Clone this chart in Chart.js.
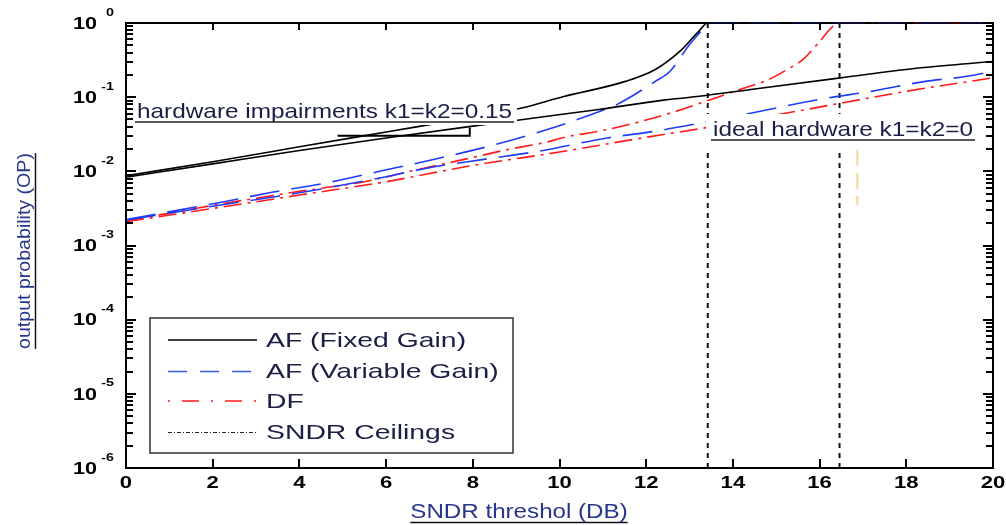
<!DOCTYPE html>
<html>
<head>
<meta charset="utf-8">
<script src="https://cdn.jsdelivr.net/npm/chart.js@4.4.0/dist/chart.umd.min.js"></script>
<style>
  html, body { margin: 0; padding: 0; background: #fff; }
  canvas { display: block; }
</style>
</head>
<body>
<canvas id="op-chart" width="1006" height="525"></canvas>
<script>
// SNDR threshold (dB) and outage probability
// hardware impairments k1=k2=0.15
const snrFixedHI = [0, 2, 4, 6, 8, 9.1, 10.1, 11.5, 12.2, 12.8, 13.2, 13.42, 20];
const opFixedHI = [0.0087, 0.0135, 0.0214, 0.0339, 0.0537, 0.0708, 0.102, 0.162, 0.234, 0.427, 0.759, 1, 1];

const snrVarHI = [0, 2.08, 3.4, 4.67, 5.85, 7.17, 8.39, 9.7, 10.94, 11.32, 12.2, 12.55, 13.0, 13.25, 13.42, 20];
const opVarHI = [0.00224, 0.00372, 0.00525, 0.00708, 0.01, 0.0148, 0.0219, 0.0363, 0.0646, 0.0794, 0.162, 0.224, 0.513, 0.759, 1, 1];

const snrDfHI = [0, 2, 4, 5.5, 6.55, 7.8, 8.87, 9.6, 10.2, 10.9, 11.6, 12.8, 13.5, 14.3, 14.8, 15.3, 15.6, 16.0, 16.3, 16.46, 20];
const opDfHI = [0.00214, 0.00347, 0.00537, 0.00724, 0.01, 0.0145, 0.02, 0.024, 0.0295, 0.0347, 0.0427, 0.0676, 0.0933, 0.135, 0.17, 0.245, 0.316, 0.562, 0.891, 1, 1];

// ideal hardware k1=k2=0
const snrFixedID = [0, 2, 4, 6, 8, 9.16, 10.86, 12.4, 13.17, 14.5, 16.48, 18.4, 20];
const opFixedID = [0.00832, 0.0126, 0.0191, 0.0282, 0.0407, 0.0501, 0.0676, 0.0912, 0.102, 0.129, 0.182, 0.251, 0.302];

const snrVarID = [0, 2, 4, 5.85, 7.0, 8.25, 9.5, 11.1, 12.2, 13.25, 14.55, 16.0, 17.3, 18.4, 19.4, 20];
const opVarID = [0.00219, 0.00339, 0.00513, 0.00813, 0.0112, 0.0145, 0.0186, 0.0282, 0.0347, 0.0447, 0.0631, 0.0933, 0.123, 0.162, 0.191, 0.224];

const snrDfID = [0, 2, 4, 6, 8, 10, 12, 13.5, 15, 16.5, 18, 20];
const opDfID = [0.00209, 0.00316, 0.00479, 0.00724, 0.012, 0.0182, 0.0288, 0.0398, 0.0575, 0.0832, 0.12, 0.182];

// SNDR ceilings (dB)
const ceilings = [13.42, 16.46];

// small marks left in the original figure
const markSnr = [16.87, 16.87];
const markOp = [0.0196, 0.00355];
const leaderSnr = [4.88, 7.89, 7.93, 7.93];
const leaderOp = [0.0302, 0.0302, 0.0302, 0.0389];

const xTicks = [0, 2, 4, 6, 8, 10, 12, 14, 16, 18, 20];
const yExponents = [0, -1, -2, -3, -4, -5, -6];

const legendLabels = ["AF (Fixed Gain)", "AF (Variable Gain)", "DF", "SNDR Ceilings"];

const FONT = "'Liberation Sans', Arial, sans-serif";
const BLUE = "#1f3cf5";
const RED = "#ff1a1a";
const TEXT_DARK = "#1b1f45";
const TITLE_BLUE = "#27368a";

function pts(xs, ys) {
  return xs.map((x, i) => ({ x: x, y: ys[i] }));
}

function curve(xs, ys, color, dash) {
  return {
    data: pts(xs, ys),
    borderColor: color,
    borderWidth: 1.6,
    borderDash: dash,
    pointRadius: 0,
    fill: false,
    cubicInterpolationMode: "monotone",
    clip: 3,
  };
}

const datasets = [
  curve(snrFixedID, opFixedID, "#000", []),
  curve(snrVarID, opVarID, BLUE, [30, 12]),
  curve(snrDfID, opDfID, RED, [18, 6, 3, 6]),
  curve(snrFixedHI, opFixedHI, "#000", []),
  curve(snrVarHI, opVarHI, BLUE, [30, 12]),
  curve(snrDfHI, opDfHI, RED, [18, 6, 3, 6]),
];
ceilings.forEach((c) => {
  datasets.push({
    data: [{ x: c, y: 1e-6 }, { x: c, y: 1 }],
    borderColor: "#111",
    borderWidth: 2,
    borderDash: [5, 5],
    pointRadius: 0,
    fill: false,
    clip: 3,
  });
});
datasets.push({
  data: pts(markSnr, markOp),
  borderColor: "#f8d29a",
  borderWidth: 2,
  borderDash: [16, 7],
  pointRadius: 0,
  fill: false,
});

function stretchText(ctx, text, x, y, sx, align) {
  ctx.save();
  ctx.translate(x, y);
  ctx.scale(sx, 1);
  ctx.textAlign = align || "left";
  ctx.fillText(text, 0, 0);
  const w = ctx.measureText(text).width * sx;
  ctx.restore();
  return w;
}

function labelBox(ctx, text, x, baseline, box) {
  ctx.fillStyle = "#fff";
  ctx.fillRect(box[0], box[1], box[2], box[3]);
  ctx.font = "21px " + FONT;
  ctx.fillStyle = TEXT_DARK;
  ctx.textBaseline = "alphabetic";
  const w = stretchText(ctx, text, x, baseline, 1.16);
  ctx.strokeStyle = "#222";
  ctx.lineWidth = 1.5;
  ctx.setLineDash([]);
  ctx.beginPath();
  ctx.moveTo(x - 2, baseline + 4);
  ctx.lineTo(x + w + 2, baseline + 4);
  ctx.stroke();
}

// inward tick marks, MATLAB style
function tickMarks(ctx, chart) {
  const a = chart.chartArea;
  const xs = chart.scales.x;
  const ys = chart.scales.y;
  ctx.save();
  ctx.fillStyle = "#000";
  for (let i = 0; i < xTicks.length; i++) {
    const px = Math.round(xs.getPixelForValue(xTicks[i]));
    ctx.fillRect(px - 1, Math.round(a.bottom) - 9, 2, 9);
    ctx.fillRect(px - 1, Math.round(a.top), 2, 7);
  }
  for (let k = 0; k < yExponents.length; k++) {
    for (let m = 1; m <= 9; m++) {
      const v = m * Math.pow(10, yExponents[k]);
      if (v > 1) break;
      const py = Math.round(ys.getPixelForValue(v));
      const len = m === 1 ? 10 : 7;
      ctx.fillRect(Math.round(a.left), py - 1, len, 2);
      ctx.fillRect(Math.round(a.right) - len, py - 1, len, 2);
    }
  }
  ctx.restore();
}

const decor = {
  id: "decor",
  beforeDatasetsDraw(chart) {
    // top border sits under the curves that saturate at 1
    const ctx = chart.ctx;
    const a = chart.chartArea;
    ctx.save();
    ctx.fillStyle = "#000";
    ctx.fillRect(a.left - 1, a.top - 1, a.right - a.left + 2, 2);
    ctx.restore();
  },
  afterDatasetsDraw(chart) {
    const ctx = chart.ctx;
    const a = chart.chartArea;
    const xs = chart.scales.x;
    const ys = chart.scales.y;
    ctx.save();
    ctx.setLineDash([]);

    // leader line under the first annotation
    ctx.strokeStyle = "#000";
    ctx.lineWidth = 2;
    ctx.beginPath();
    leaderSnr.forEach((v, i) => {
      const px = xs.getPixelForValue(v);
      const py = ys.getPixelForValue(leaderOp[i]);
      if (i === 0) ctx.moveTo(px, py); else ctx.lineTo(px, py);
    });
    ctx.stroke();

    labelBox(ctx, "hardware impairments k1=k2=0.15", 137, 118, [133, 94, 384, 31]);
    labelBox(ctx, "ideal hardware k1=k2=0", 713, 136, [706, 114, 272, 34]);

    // legend
    ctx.fillStyle = "#fff";
    ctx.fillRect(150, 318, 363, 135);
    ctx.strokeStyle = "#333";
    ctx.lineWidth = 1.5;
    ctx.setLineDash([]);
    ctx.strokeRect(150, 318, 363, 135);
    const rowY = [340, 371.5, 401, 432.5];
    const styles = [
      { c: "#000", d: [], w: 1.5 },
      { c: "#3160d8", d: [19, 13], w: 1.5 },
      { c: RED, d: [2, 12, 17, 12], w: 1.5 },
      { c: "#222", d: [4, 2, 1, 2], w: 1 },
    ];
    legendLabels.forEach((lab, i) => {
      const s = styles[i];
      ctx.strokeStyle = s.c;
      ctx.lineWidth = s.w;
      ctx.setLineDash(s.d);
      ctx.beginPath();
      ctx.moveTo(168, rowY[i]);
      ctx.lineTo(257, rowY[i]);
      ctx.stroke();
      ctx.setLineDash([]);
      ctx.font = "21px " + FONT;
      ctx.fillStyle = TEXT_DARK;
      ctx.textBaseline = "alphabetic";
      stretchText(ctx, lab, 266, rowY[i] + 6.5, 1.35);
    });

    // frame (left, bottom, right)
    ctx.fillStyle = "#000";
    ctx.fillRect(a.left - 1, a.top - 1, 2, a.bottom - a.top + 2);
    ctx.fillRect(a.left - 1, a.bottom - 1, a.right - a.left + 2, 2);
    ctx.fillRect(a.right - 1, a.top - 1, 2, a.bottom - a.top + 2);

    // tick labels
    ctx.fillStyle = "#000";
    ctx.textBaseline = "middle";
    ctx.font = "bold 17px " + FONT;
    xTicks.forEach((v) => {
      stretchText(ctx, String(v), xs.getPixelForValue(v), 483, 1.3, "center");
    });
    yExponents.forEach((e) => {
      const py = ys.getPixelForValue(Math.pow(10, e));
      ctx.font = "bold 17px " + FONT;
      ctx.textBaseline = "middle";
      stretchText(ctx, "10", 97, py + 1, 1.27, "right");
      ctx.font = "bold 11px " + FONT;
      ctx.textBaseline = "alphabetic";
      stretchText(ctx, e === 0 ? "0" : "-" + Math.abs(e), 114, py - 7.5, 1.3, "right");
    });

    // axis titles, underlined
    ctx.fillStyle = TITLE_BLUE;
    ctx.textBaseline = "alphabetic";
    ctx.font = "21px " + FONT;
    const tw = stretchText(ctx, "SNDR threshol (DB)", 519, 518, 1.15, "center");
    ctx.strokeStyle = "#111";
    ctx.lineWidth = 1.5;
    ctx.beginPath();
    ctx.moveTo(519 - tw / 2, 522.5);
    ctx.lineTo(519 + tw / 2, 522.5);
    ctx.stroke();

    ctx.save();
    ctx.translate(30, 251);
    ctx.rotate(-Math.PI / 2);
    ctx.font = "19px " + FONT;
    const yw = stretchText(ctx, "output probability (OP)", 0, 0, 1.03, "center");
    ctx.beginPath();
    ctx.moveTo(-yw / 2, 5.5);
    ctx.lineTo(yw / 2, 5.5);
    ctx.stroke();
    ctx.restore();

    ctx.restore();
  },
  afterDraw(chart) {
    tickMarks(chart.ctx, chart);
  },
};

new Chart(document.getElementById("op-chart").getContext("2d"), {
  type: "line",
  data: { datasets: datasets },
  options: {
    responsive: false,
    animation: false,
    events: [],
    layout: { padding: { left: 126, right: 13, top: 23, bottom: 57 } },
    plugins: { legend: { display: false }, tooltip: { enabled: false } },
    scales: {
      x: { type: "linear", min: 0, max: 20, display: false },
      y: { type: "logarithmic", min: 1e-6, max: 1, display: false },
    },
  },
  plugins: [decor],
});
</script>
</body>
</html>
